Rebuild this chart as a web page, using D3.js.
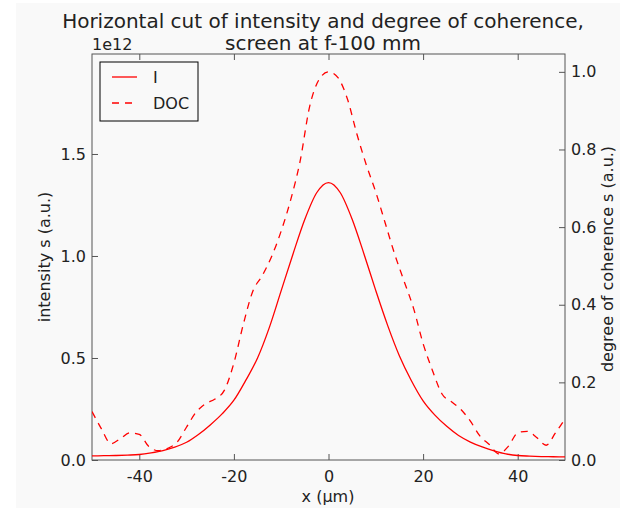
<!DOCTYPE html>
<html>
<head>
<meta charset="utf-8">
<script src="https://cdn.jsdelivr.net/npm/d3@7"></script>
<style>
  html, body { margin: 0; padding: 0; background: #fff; }
  text { font-family: "DejaVu Sans", sans-serif; fill: #222; }
</style>
</head>
<body>
<div id="chart"></div>
<script>
// positions along the cut (um)
var xs_I = [-50, -47.5, -45, -42.5, -40, -37.5, -35, -32.5, -30, -27.5, -25, -22.5, -20, -17.5, -15, -12.5, -10, -7.5, -5, -2.5, 0,
            2.5, 5, 7.5, 10, 12.5, 15, 17.5, 20, 22.5, 25, 27.5, 30, 32.5, 35, 37.5, 40, 42.5, 45, 47.5, 50];
// intensity, units of 1e12
var intensity = [0.020, 0.021, 0.022, 0.024, 0.027, 0.035, 0.046, 0.063, 0.087, 0.125, 0.172, 0.226, 0.293, 0.39, 0.50, 0.65, 0.83, 1.01, 1.18, 1.31, 1.36,
                 1.31, 1.18, 1.01, 0.83, 0.66, 0.51, 0.39, 0.29, 0.22, 0.165, 0.12, 0.088, 0.064, 0.045, 0.030, 0.022, 0.019, 0.017, 0.016, 0.015];

var xs_D = [-50, -48, -46, -44, -42, -40, -38, -36, -34, -32, -30, -28, -26, -24, -22, -20, -18, -16, -14, -12, -10, -8, -6, -4, -2, 0,
            2, 4, 6, 8, 10, 12, 14, 16, 18, 20, 22, 24, 26, 28, 30, 32, 34, 36, 38, 40, 42, 44, 46, 48, 50];
// degree of coherence
var doc = [0.125, 0.08, 0.042, 0.055, 0.07, 0.066, 0.035, 0.024, 0.03, 0.046, 0.085, 0.123, 0.145, 0.157, 0.18, 0.25, 0.35, 0.435, 0.475, 0.525, 0.59, 0.67, 0.77, 0.91, 0.98, 1.0,
           0.985, 0.93, 0.84, 0.76, 0.69, 0.61, 0.53, 0.46, 0.39, 0.30, 0.23, 0.17, 0.15, 0.13, 0.10, 0.062, 0.04, 0.016, 0.035, 0.07, 0.074, 0.058, 0.038, 0.07, 0.106];

var xTicks = [-40, -20, 0, 20, 40];
var yTicksL = [0, 0.5, 1.0, 1.5];
var yTicksR = [0, 0.2, 0.4, 0.6, 0.8, 1.0];

var width = 620, height = 508;
var m = {left: 92, right: 565, top: 54, bottom: 460};

var svg = d3.select('#chart').append('svg')
  .attr('width', width).attr('height', height);

// figure background
svg.append('rect').attr('x', 16).attr('y', 3).attr('width', width - 16).attr('height', height - 3).attr('fill', '#f9f9f9');

var x = d3.scaleLinear().domain([-50, 50]).range([m.left, m.right]);
var yL = d3.scaleLinear().domain([0, 1.99]).range([m.bottom, m.top]);
var yR = d3.scaleLinear().domain([0, 1.046]).range([m.bottom, m.top]);

var tickLen = 6;
var fmt = d3.format('.1f');
var fs = '16px';

function styleAxis(g) {
  g.select('.domain').remove();
  g.selectAll('line').attr('stroke', '#555');
  g.selectAll('text').attr('font-size', fs).attr('fill', '#222');
}

// bottom axis, ticks inward, plain hyphen for minus
svg.append('g').attr('transform', `translate(0,${m.bottom})`)
  .call(d3.axisBottom(x).tickValues(xTicks).tickSizeInner(-tickLen).tickSizeOuter(0).tickPadding(11).tickFormat(d => String(d)))
  .call(styleAxis);
// top ticks
svg.append('g').attr('transform', `translate(0,${m.top})`)
  .call(d3.axisTop(x).tickValues(xTicks).tickSizeInner(-tickLen).tickSizeOuter(0).tickFormat(''))
  .call(styleAxis);
// left axis
svg.append('g').attr('transform', `translate(${m.left},0)`)
  .call(d3.axisLeft(yL).tickValues(yTicksL).tickSizeInner(-tickLen).tickSizeOuter(0).tickPadding(6).tickFormat(fmt))
  .call(styleAxis);
// right axis
svg.append('g').attr('transform', `translate(${m.right},0)`)
  .call(d3.axisRight(yR).tickValues(yTicksR).tickSizeInner(-tickLen).tickSizeOuter(0).tickPadding(6).tickFormat(fmt))
  .call(styleAxis);

// frame
svg.append('rect').attr('x', m.left).attr('y', m.top)
  .attr('width', m.right - m.left).attr('height', m.bottom - m.top)
  .attr('fill', 'none').attr('stroke', '#555').attr('stroke-width', 1);

svg.append('clipPath').attr('id', 'clip').append('rect')
  .attr('x', m.left).attr('y', m.top).attr('width', m.right - m.left).attr('height', m.bottom - m.top);

var lineI = d3.line().x((d, i) => x(xs_I[i])).y(d => yL(d)).curve(d3.curveMonotoneX);
var lineD = d3.line().x((d, i) => x(xs_D[i])).y(d => yR(d)).curve(d3.curveMonotoneX);

svg.append('path').datum(intensity).attr('clip-path', 'url(#clip)')
  .attr('d', lineI).attr('fill', 'none').attr('stroke', '#ff0000').attr('stroke-width', 1.3);
svg.append('path').datum(doc).attr('clip-path', 'url(#clip)')
  .attr('d', lineD).attr('fill', 'none').attr('stroke', '#ff0000').attr('stroke-width', 1.3)
  .attr('stroke-dasharray', '7,6');

// title
svg.append('text').attr('x', 323).attr('y', 28).attr('text-anchor', 'middle').attr('font-size', '20px')
  .text('Horizontal cut of intensity and degree of coherence,');
svg.append('text').attr('x', 323).attr('y', 50).attr('text-anchor', 'middle').attr('font-size', '20px')
  .text('screen at f-100 mm');
svg.append('text').attr('x', m.left).attr('y', 50).attr('font-size', fs).text('1e12');

// axis labels
svg.append('text').attr('x', 328).attr('y', 502).attr('text-anchor', 'middle').attr('font-size', fs).text('x (µm)');
svg.append('text').attr('transform', `translate(50,257) rotate(-90)`).attr('text-anchor', 'middle').attr('font-size', fs)
  .text('intensity s (a.u.)');
svg.append('text').attr('transform', `translate(613,259) rotate(-90)`).attr('text-anchor', 'middle').attr('font-size', fs)
  .text('degree of coherence s (a.u.)');

// legend
var lg = svg.append('g');
lg.append('rect').attr('x', 100).attr('y', 62).attr('width', 98).attr('height', 59)
  .attr('fill', '#f9f9f9').attr('stroke', '#000').attr('stroke-width', 1);
var legendItems = [{label: 'I', dash: null}, {label: 'DOC', dash: '7,6'}];
legendItems.forEach(function(d, i) {
  var yy = 77 + i * 26;
  lg.append('line').attr('x1', 112).attr('x2', 137).attr('y1', yy).attr('y2', yy)
    .attr('stroke', '#ff0000').attr('stroke-width', 1.3).attr('stroke-dasharray', d.dash);
  lg.append('text').attr('x', 153).attr('y', yy + 6).attr('font-size', fs).text(d.label);
});
</script>
</body>
</html>
